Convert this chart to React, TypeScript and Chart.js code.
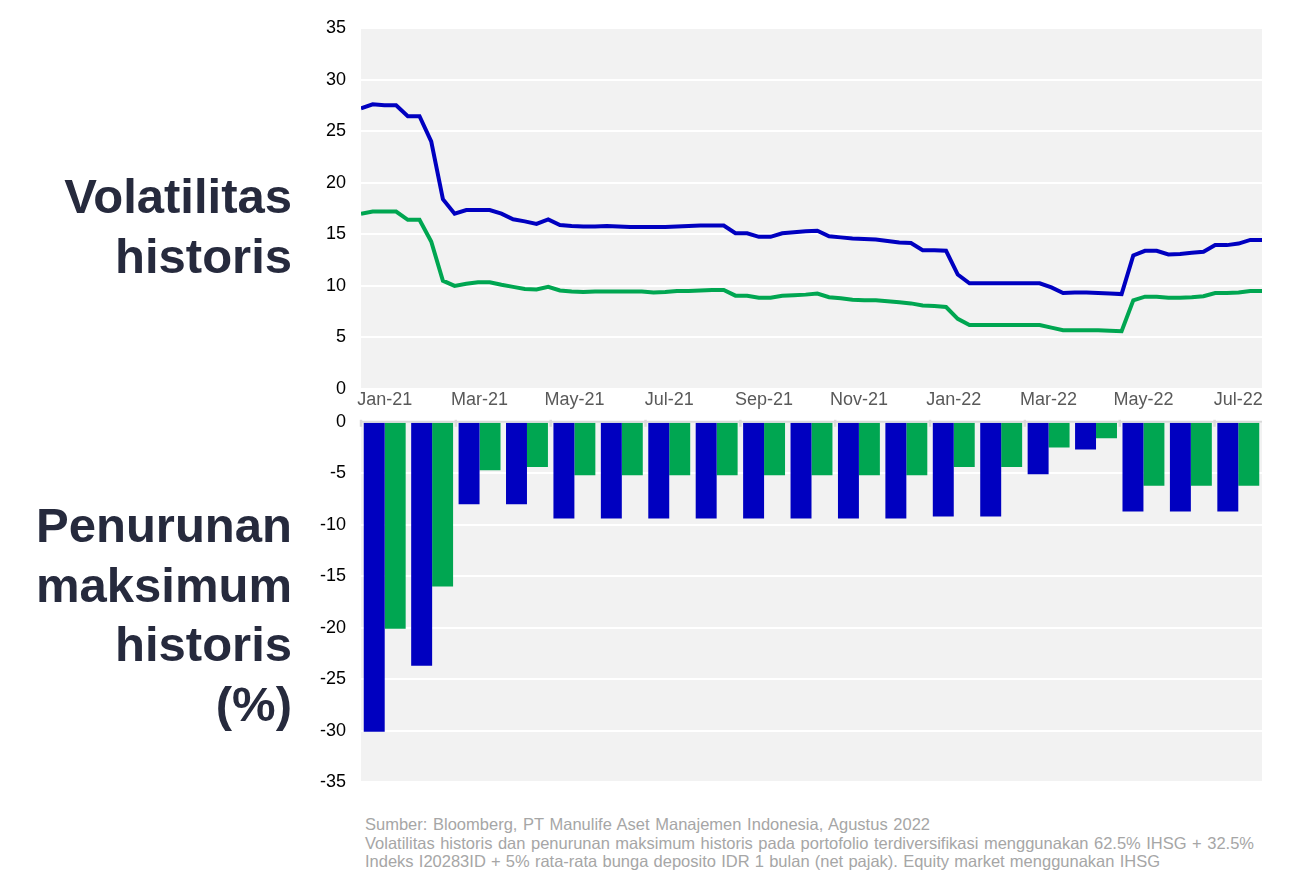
import React, { useEffect, useRef } from 'react';
import { Chart, registerables } from 'chart.js';

Chart.register(...registerables);

// Month categories (x axis of both panels)
const monthLabels = [
  'Jan-21', 'Feb-21', 'Mar-21', 'Apr-21', 'May-21', 'Jun-21', 'Jul-21', 'Aug-21', 'Sep-21', 'Oct-21',
  'Nov-21', 'Dec-21', 'Jan-22', 'Feb-22', 'Mar-22', 'Apr-22', 'May-22', 'Jun-22', 'Jul-22',
];

// Historical volatility, weekly observations (equity market = blue, diversified portfolio = green)
const volEquity = [
  27.2, 27.6, 27.5, 27.5, 26.45, 26.45, 24.0, 18.4, 17.0, 17.35,
  17.35, 17.35, 17.0, 16.45, 16.25, 16.0, 16.45, 15.9, 15.8, 15.75,
  15.75, 15.8, 15.75, 15.7, 15.7, 15.7, 15.7, 15.75, 15.8, 15.85,
  15.85, 15.85, 15.1, 15.1, 14.75, 14.75, 15.1, 15.2, 15.3, 15.35,
  14.8, 14.7, 14.6, 14.55, 14.5, 14.35, 14.2, 14.15, 13.45, 13.45,
  13.4, 11.1, 10.25, 10.25, 10.25, 10.25, 10.25, 10.25, 10.25, 9.85,
  9.3, 9.35, 9.35, 9.3, 9.25, 9.2, 12.95, 13.4, 13.4, 13.05,
  13.1, 13.2, 13.3, 13.95, 13.95, 14.1, 14.45, 14.45,
];
const volPortfolio = [
  17.0, 17.2, 17.2, 17.2, 16.4, 16.4, 14.3, 10.5, 10.0, 10.2,
  10.35, 10.35, 10.1, 9.9, 9.7, 9.65, 9.9, 9.55, 9.45, 9.4,
  9.45, 9.45, 9.45, 9.45, 9.45, 9.35, 9.4, 9.5, 9.5, 9.55,
  9.6, 9.6, 9.05, 9.05, 8.85, 8.85, 9.05, 9.1, 9.15, 9.25,
  8.9, 8.8, 8.65, 8.6, 8.6, 8.5, 8.4, 8.3, 8.1, 8.05,
  7.95, 6.8, 6.2, 6.2, 6.2, 6.2, 6.2, 6.2, 6.2, 5.95,
  5.7, 5.7, 5.7, 5.7, 5.65, 5.6, 8.6, 8.95, 8.95, 8.85,
  8.85, 8.9, 9.0, 9.3, 9.3, 9.35, 9.5, 9.5,
];

// Maximum historical drawdown (%), monthly
const ddEquity = [
  -30.1, -23.7, -8.0, -8.0, -9.4, -9.4, -9.4, -9.4, -9.4, -9.4,
  -9.4, -9.4, -9.2, -9.2, -5.1, -2.7, -8.7, -8.7, -8.7,
];
const ddPortfolio = [
  -20.1, -16.0, -4.7, -4.4, -5.2, -5.2, -5.2, -5.2, -5.2, -5.2,
  -5.2, -5.2, -4.4, -4.4, -2.5, -1.6, -6.2, -6.2, -6.2,
];

const titleTop = ['Volatilitas', 'historis'];
const titleBottom = ['Penurunan', 'maksimum', 'historis', '(%)'];
const footnoteLines = [
  'Sumber: Bloomberg, PT Manulife Aset Manajemen Indonesia, Agustus 2022',
  'Volatilitas historis dan penurunan maksimum historis pada portofolio terdiversifikasi menggunakan 62.5% IHSG + 32.5%',
  'Indeks I20283ID + 5% rata-rata bunga deposito IDR 1 bulan (net pajak). Equity market menggunakan IHSG',
];
const footnoteWidths = [565, 889, 795];

const BLUE = '#0000c0';
const GREEN = '#00a651';
const PLOT_BG = '#f2f2f2';
const FONT = '"Liberation Sans", Arial, Helvetica, sans-serif';

const bgPlugin = {
  id: 'plotBg',
  beforeDraw(chart: any) {
    const { ctx, chartArea } = chart;
    if (!chartArea) return;
    ctx.save();
    ctx.fillStyle = PLOT_BG;
    ctx.fillRect(chartArea.left, chartArea.top, chartArea.right - chartArea.left, chartArea.bottom - chartArea.top);
    ctx.restore();
  },
};

const ddAxisPlugin = {
  id: 'ddAxis',
  afterDatasetsDraw(chart: any) {
    const { ctx, chartArea, scales } = chart;
    const x = scales.x;
    const y = scales.y;
    const y0 = y.getPixelForValue(0);
    ctx.save();
    ctx.strokeStyle = '#d9d9d9';
    ctx.lineWidth = 2;
    ctx.beginPath();
    ctx.moveTo(chartArea.left, y0);
    ctx.lineTo(chartArea.right, y0);
    ctx.stroke();
    ctx.lineWidth = 2.5;
    for (let i = 0; i < monthLabels.length; i += 2) {
      const px = x.getPixelForValue(i - 0.5);
      ctx.beginPath();
      ctx.moveTo(px, y0 - 2);
      ctx.lineTo(px, y0 + 5);
      ctx.stroke();
    }
    ctx.restore();
  },
};

function VolChart() {
  const ref = useRef<HTMLCanvasElement | null>(null);
  useEffect(() => {
    if (!ref.current) return;
    const chart = new Chart(ref.current, {
      type: 'line',
      data: {
        labels: monthLabels,
        datasets: [
          {
            label: 'Equity market',
            data: volEquity.map((v, i) => ({ x: i, y: v })),
            xAxisID: 'xw',
            borderColor: BLUE,
            borderWidth: 4,
            pointRadius: 0,
            tension: 0,
            fill: false,
          },
          {
            label: 'Portofolio terdiversifikasi',
            data: volPortfolio.map((v, i) => ({ x: i, y: v })),
            xAxisID: 'xw',
            borderColor: GREEN,
            borderWidth: 4,
            pointRadius: 0,
            tension: 0,
            fill: false,
          },
        ],
      },
      options: {
        animation: false,
        responsive: true,
        maintainAspectRatio: false,
        layout: { padding: { top: 28, right: 18, bottom: 0, left: 0 } },
        plugins: { legend: { display: false }, tooltip: { enabled: false } },
        scales: {
          xw: {
            type: 'linear',
            axis: 'x',
            display: false,
            min: 0,
            max: volEquity.length - 1,
          },
          x: {
            type: 'category',
            offset: true,
            grid: { display: false, drawTicks: false },
            border: { display: false },
            ticks: {
              autoSkip: false,
              maxRotation: 0,
              padding: 0,
              color: '#595959',
              font: { family: FONT, size: 18 },
              callback: (_v: any, i: number) => (i % 2 === 0 ? monthLabels[i] : ''),
            },
            afterFit: (s: any) => {
              s.height = 31;
            },
          },
          y: {
            min: 0,
            max: 35,
            ticks: {
              stepSize: 5,
              padding: 15,
              color: '#000000',
              font: { family: FONT, size: 18 },
            },
            grid: { color: '#ffffff', lineWidth: 2, drawTicks: false },
            border: { display: false },
            afterFit: (s: any) => {
              s.width = 61;
            },
          },
        },
      } as any,
      plugins: [bgPlugin],
    });
    return () => chart.destroy();
  }, []);
  return <canvas ref={ref} />;
}

function DrawdownChart() {
  const ref = useRef<HTMLCanvasElement | null>(null);
  useEffect(() => {
    if (!ref.current) return;
    const chart = new Chart(ref.current, {
      type: 'bar',
      data: {
        labels: monthLabels,
        datasets: [
          {
            label: 'Equity market',
            data: ddEquity,
            backgroundColor: BLUE,
            borderWidth: 0,
            categoryPercentage: 0.884,
            barPercentage: 1,
          },
          {
            label: 'Portofolio terdiversifikasi',
            data: ddPortfolio,
            backgroundColor: GREEN,
            borderWidth: 0,
            categoryPercentage: 0.884,
            barPercentage: 1,
          },
        ],
      },
      options: {
        animation: false,
        responsive: true,
        maintainAspectRatio: false,
        layout: { padding: { top: 0, right: 18, bottom: 0, left: 0 } },
        plugins: { legend: { display: false }, tooltip: { enabled: false } },
        scales: {
          x: {
            display: false,
            offset: true,
          },
          y: {
            min: -35,
            max: 0,
            ticks: {
              stepSize: 5,
              padding: 15,
              color: '#000000',
              font: { family: FONT, size: 18 },
            },
            grid: { color: '#ffffff', lineWidth: 2, drawTicks: false },
            border: { display: false },
            afterFit: (s: any) => {
              s.width = 61;
            },
          },
        },
      } as any,
      plugins: [bgPlugin, ddAxisPlugin],
    });
    return () => chart.destroy();
  }, []);
  return <canvas ref={ref} />;
}

export default function App() {
  const titleStyle: React.CSSProperties = {
    position: 'absolute',
    left: 0,
    width: 292,
    textAlign: 'right',
    fontFamily: FONT,
    fontWeight: 'bold',
    fontSize: 49,
    color: '#262a3d',
    whiteSpace: 'nowrap',
  };
  return (
    <div style={{ position: 'absolute', left: 0, top: 0, width: 1298, height: 882, background: '#ffffff', overflow: 'hidden' }}>
      <div style={{ ...titleStyle, top: 166, lineHeight: '60px' }}>
        {titleTop.map((t) => (
          <div key={t}>{t}</div>
        ))}
      </div>
      <div style={{ ...titleStyle, top: 496, lineHeight: '59.5px' }}>
        {titleBottom.map((t) => (
          <div key={t}>{t}</div>
        ))}
      </div>
      <div style={{ position: 'absolute', left: 300, top: 0, width: 980, height: 420 }}>
        <VolChart />
      </div>
      <div style={{ position: 'absolute', left: 300, top: 396, width: 980, height: 412 }}>
        <DrawdownChart />
      </div>
      <div
        style={{
          position: 'absolute',
          left: 365,
          top: 815,
          fontFamily: FONT,
          fontSize: 16.5,
          lineHeight: '18.5px',
          color: '#a6a6a6',
        }}
      >
        {footnoteLines.map((t, i) => (
          <div
            key={i}
            style={{ width: footnoteWidths[i], textAlign: 'justify', textAlignLast: 'justify', whiteSpace: 'normal' }}
          >
            {t}
          </div>
        ))}
      </div>
    </div>
  );
}
